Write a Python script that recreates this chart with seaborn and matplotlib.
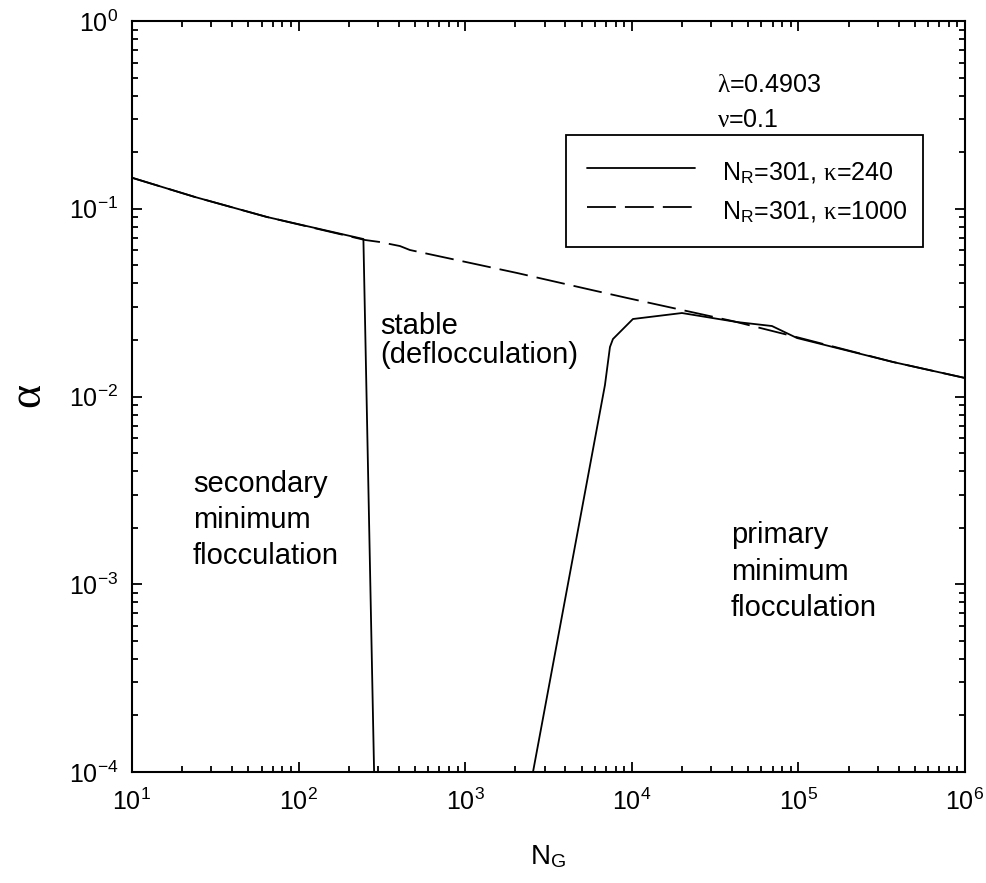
import matplotlib
matplotlib.use("Agg")
import matplotlib.pyplot as plt
import seaborn as sns
import pandas as pd
from matplotlib.lines import Line2D

# Stability boundary for kappa = 1000 (dashed)
ng_k1000 = [10, 23.9, 64.6, 250, 308, 406, 466, 778, 2046, 5768, 9354,
            40500, 98100, 369700, 1e6]
alpha_k1000 = [0.1463, 0.1155, 0.0904, 0.0682, 0.0665, 0.0633, 0.0603,
               0.0547, 0.0455, 0.0369, 0.0335, 0.0252, 0.0207, 0.01527, 0.01255]

# Stability boundaries for kappa = 240 (solid): secondary-minimum branch
ng_k240_a = [10, 23.9, 64.6, 245, 284]
alpha_k240_a = [0.1463, 0.1155, 0.0904, 0.0690, 1e-4]

# ... and primary-minimum branch
ng_k240_b = [2553, 6902, 7396, 7709, 10160, 20000, 42770, 69400, 98100,
             369700, 1e6]
alpha_k240_b = [1e-4, 0.01151, 0.01835, 0.02024, 0.02587, 0.02784, 0.02493,
                0.02374, 0.02049, 0.01527, 0.01255]

legend_labels = [r"N$_\mathregular{R}$=301, $\kappa$=240",
                 r"N$_\mathregular{R}$=301, $\kappa$=1000"]

sns.set_style("ticks")
plt.rcParams["font.family"] = ["Liberation Sans", "DejaVu Sans"]
plt.rcParams["mathtext.fontset"] = "custom"
plt.rcParams["mathtext.rm"] = "Liberation Sans"
plt.rcParams["mathtext.sf"] = "Liberation Sans"
plt.rcParams["mathtext.it"] = "Liberation Serif"
plt.rcParams["mathtext.bf"] = "Liberation Sans:bold"
plt.rcParams["axes.unicode_minus"] = False
for key in ["text.color", "axes.labelcolor", "xtick.color", "ytick.color",
            "xtick.labelcolor", "ytick.labelcolor"]:
    plt.rcParams[key] = "black"

fig = plt.figure(figsize=(9.87, 8.83), dpi=100)
ax = fig.add_axes([0.1337, 0.1257, 0.8440, 0.8505])

lw = 1.3
df_dash = pd.DataFrame({"NG": ng_k1000, "alpha": alpha_k1000})
df_a = pd.DataFrame({"NG": ng_k240_a, "alpha": alpha_k240_a})
df_b = pd.DataFrame({"NG": ng_k240_b, "alpha": alpha_k240_b})

sns.lineplot(data=df_dash, x="NG", y="alpha", sort=False, estimator=None,
             color="black", lw=lw, ax=ax)
ax.lines[-1].set_dashes((16, 5))
sns.lineplot(data=df_a, x="NG", y="alpha", sort=False, estimator=None,
             color="black", lw=lw, ax=ax)
sns.lineplot(data=df_b, x="NG", y="alpha", sort=False, estimator=None,
             color="black", lw=lw, ax=ax)

ax.set_xscale("log")
ax.set_yscale("log")
ax.set_xlim(10, 1e6)
ax.set_ylim(1e-4, 1)

for sp in ax.spines.values():
    sp.set_linewidth(1.5)
    sp.set_color("black")
ax.tick_params(which="both", direction="in", top=True, right=True,
               width=1.3, color="black", labelsize=18)
ax.tick_params(which="major", length=7)
ax.tick_params(which="minor", length=4.5)
ax.tick_params(axis="x", which="major", pad=12)
ax.tick_params(axis="y", which="major", pad=10)

ax.set_xlabel(r"N$_\mathregular{G}$", fontsize=20, labelpad=20)
ax.set_ylabel(r"$\alpha$", fontsize=33)
ax.yaxis.set_label_coords(-0.097, 0.5)


def put_lines(x, baselines, lines, size):
    for yb, s in zip(baselines, lines):
        ax.text(x, yb, s, transform=ax.transAxes, fontsize=size,
                va="baseline", ha="left")


# Region labels
put_lines(0.0732, [0.3728, 0.3249, 0.2770],
          ["secondary", "minimum", "flocculation"], 21)
put_lines(0.719, [0.3049, 0.2557, 0.2077],
          ["primary", "minimum", "flocculation"], 21)
put_lines(0.2977, [0.5832, 0.5446], ["stable", "(deflocculation)"], 21)

# Parameters
put_lines(0.7023, [0.9055, 0.8589], [r"$\lambda$=0.4903", r"$\nu$=0.1"], 18)

handles = [Line2D([], [], color="black", lw=lw),
           Line2D([], [], color="black", lw=lw, dashes=(16, 5))]
leg = ax.legend(handles, legend_labels, loc="upper left",
                bbox_to_anchor=(0.521, 0.6858, 0.4286, 0.1622), mode="expand",
                borderaxespad=0, fontsize=18, handlelength=4.3,
                handletextpad=1.1, handleheight=1.5, labelspacing=0.35,
                borderpad=0.85, fancybox=False, framealpha=1, edgecolor="black")
leg.get_frame().set_linewidth(1.3)

fig.savefig("out.png", dpi=100)
